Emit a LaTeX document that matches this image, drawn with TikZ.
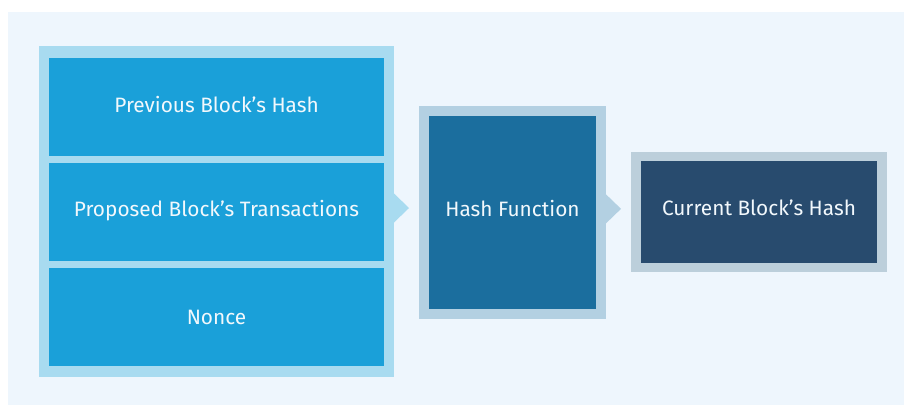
\documentclass[tikz,border=0pt]{standalone}
\usepackage{fontspec}
\setmainfont{Fira Sans}
\usetikzlibrary{calc}
\definecolor{panel}{HTML}{EEF6FD}
\definecolor{lframe}{HTML}{A8DBF0}
\definecolor{lbox}{HTML}{1AA0D9}
\definecolor{hframe}{HTML}{B3D0E2}
\definecolor{hbox}{HTML}{1B6E9E}
\definecolor{cframe}{HTML}{BCCFDB}
\definecolor{cbox}{HTML}{284B6E}
\definecolor{txt}{HTML}{F2F8FC}
\tikzset{
  every node/.style={inner sep=0pt, outer sep=0pt},
  region/.style={fill=#1, draw=none},
  label text/.style={text=txt, anchor=base, font=\fontsize{20.9}{24}\selectfont},
}
\begin{document}
\begin{tikzpicture}[x=1bp,y=-1bp]
\useasboundingbox (0,0) rectangle (904,405);
\fill[panel] (8,12) rectangle (904,405);
% frames
\node[region=lframe, minimum width=355.5bp, minimum height=331bp, anchor=north west] (lf) at (38.5,46) {};
\node[region=hframe, minimum width=187bp, minimum height=213.3bp, anchor=north west] (hf) at (419,105.7) {};
\node[region=cframe, minimum width=255.7bp, minimum height=119.7bp, anchor=north west] (cf) at (631,152) {};
% inner boxes
\node[region=lbox, minimum width=335bp, minimum height=98bp, anchor=north west] (prev) at (49,58) {};
\node[region=lbox, minimum width=335bp, minimum height=98bp, anchor=north west] (prop) at (49,163) {};
\node[region=lbox, minimum width=335bp, minimum height=98bp, anchor=north west] (nonce) at (49,268) {};
\node[region=hbox, minimum width=167bp, minimum height=193bp, anchor=north west] (hash) at (429,116) {};
\node[region=cbox, minimum width=236bp, minimum height=101.7bp, anchor=north west] (cur) at (641,161) {};
% texts
\node[label text] (prevt) at (prev.center |- 0,112.7) {Previous Block’s Hash};
\node[label text] (propt) at (prop.center |- 0,216.5) {Proposed Block’s Transactions};
\node[label text] (noncet) at (nonce.center |- 0,324.3) {Nonce};
\node[label text] (hasht) at (hash.center |- 0,216) {Hash Function};
\node[label text] (curt) at (cur.center |- 0,215.7) {Current Block’s Hash};
% arrow triangles
\fill[lframe] ($(lf.east)+(0,-18)$) -- ($(lf.east)+(15,-3.5)$) -- ($(lf.east)+(0,11)$) -- cycle;
\fill[hframe] ($(hf.east)+(0,-18)$) -- ($(hf.east)+(15,-3.5)$) -- ($(hf.east)+(0,11)$) -- cycle;
\end{tikzpicture}
\end{document}
